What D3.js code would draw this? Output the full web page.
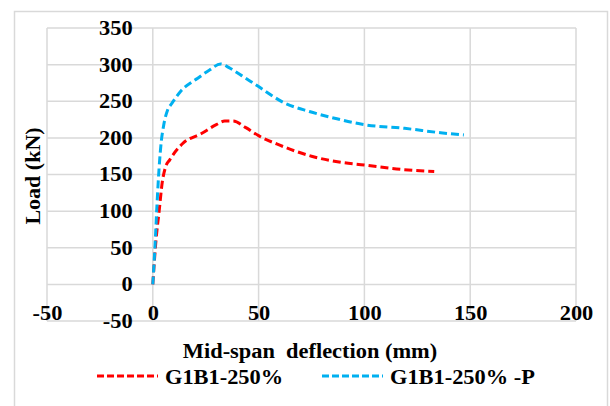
<!DOCTYPE html>
<html lang="en">
<head>
<meta charset="utf-8" />
<title>Load - deflection</title>
<script src="https://d3js.org/d3.v7.min.js"></script>
<style>
  body { margin: 0; background: #fff; }
  .grid line { stroke: #d9d9d9; stroke-width: 1.5px; }
  .series { fill: none; stroke-width: 3px; stroke-dasharray: 8,4; }
</style>
</head>
<body>
<svg id="chart" width="610" height="406"></svg>
<script>
// tick values
var xTicks = [-50, 0, 50, 100, 150, 200];
var yTicks = [-50, 0, 50, 100, 150, 200, 250, 300, 350];

// G1B1-250%
var deflA = [0, 1.5, 3, 4.5, 6, 8, 14, 23, 30, 34, 38, 44, 50, 60, 75, 88, 100, 117, 133];
var loadA = [0, 60, 100, 140, 160, 170, 192, 206, 218, 223, 223, 214, 203, 190, 175, 167, 163, 157, 154];

// G1B1-250% -P
var deflB = [0, 1, 2, 3, 4, 5, 7, 9, 13, 21, 27, 32, 36, 42, 50, 62, 74, 87, 100, 119, 136, 147];
var loadB = [0, 50, 110, 160, 195, 215, 238, 247, 263, 281, 293, 301, 296, 285, 270, 248, 236, 226, 218, 213, 207, 204];

var seriesNames = ["G1B1-250%", "G1B1-250% -P"];

var FONT = "'Liberation Serif'";
var sx = 1.12; // text in the original is a little wide
var svg = d3.select("#chart");

function styleText(sel, size) {
	sel.style("font-family", FONT)
		.style("font-weight", "bold")
		.style("font-size", size + "px")
		.attr("fill", "#000");
}

svg.append("rect")
	.attr("x", 14.5).attr("y", 11.5)
	.attr("width", 593).attr("height", 430)
	.attr("fill", "none")
	.attr("stroke", "#d9d9d9")
	.attr("stroke-width", 1.5);

var x = d3.scaleLinear().domain([-50, 200]).range([47, 576]);
var y = d3.scaleLinear().domain([-50, 350]).range([321, 28]);

// grid
var grid = svg.append("g").attr("class", "grid");
grid.selectAll("line.v").data(xTicks).enter().append("line")
	.attr("class", "v")
	.attr("x1", function(d) { return x(d); }).attr("x2", function(d) { return x(d); })
	.attr("y1", y(-50)).attr("y2", y(350));
grid.selectAll("line.h").data(yTicks).enter().append("line")
	.attr("class", "h")
	.attr("y1", function(d) { return y(d); }).attr("y2", function(d) { return y(d); })
	.attr("x1", x(-50)).attr("x2", x(200));

// axes (cross at 0, labels only)
var fmt = function(d) { return String(d); }; // plain hyphen, like the original
var xAxis = svg.append("g")
	.attr("transform", "translate(0," + y(0) + ")")
	.call(d3.axisBottom(x).tickValues(xTicks).tickFormat(fmt).tickSize(0).tickPadding(21));
var yAxis = svg.append("g")
	.attr("transform", "translate(" + x(0) + ",0)")
	.call(d3.axisLeft(y).tickValues(yTicks).tickFormat(fmt).tickSize(0).tickPadding(18));

[xAxis, yAxis].forEach(function(a) {
	a.select(".domain").remove();
	a.selectAll("text")
		.call(styleText, 20)
		.attr("transform", "scale(" + sx + ",1)");
});

// curves
var line = d3.line()
	.x(function(d) { return x(d[0]); })
	.y(function(d) { return y(d[1]); })
	.curve(d3.curveMonotoneX);

var dataA = d3.zip(deflA, loadA);
var dataB = d3.zip(deflB, loadB);

svg.append("path").attr("class", "series")
	.attr("stroke", "#ff0000")
	.attr("d", line(dataA));
svg.append("path").attr("class", "series")
	.attr("stroke", "#00b0f0")
	.attr("d", line(dataB));

// axis titles
svg.append("text")
	.attr("transform", "translate(310,358) scale(" + sx + ",1)")
	.attr("text-anchor", "middle")
	.style("white-space", "pre")
	.call(styleText, 20)
	.text("Mid-span  deflection (mm)");

svg.append("text")
	.attr("transform", "translate(40,176) rotate(-90)")
	.attr("text-anchor", "middle")
	.call(styleText, 22)
	.text("Load (kN)");

// legend
var legend = [
	{ name: seriesNames[0], color: "#ff0000", x: 97 },
	{ name: seriesNames[1], color: "#00b0f0", x: 322 }
];
var lg = svg.selectAll("g.legend").data(legend).enter().append("g")
	.attr("class", "legend")
	.attr("transform", function(d) { return "translate(" + d.x + ",376)"; });
lg.append("line")
	.attr("x1", 0).attr("x2", 61)
	.attr("y1", 0).attr("y2", 0)
	.attr("stroke", function(d) { return d.color; })
	.attr("stroke-width", 3)
	.attr("stroke-dasharray", "7,3");
lg.append("text")
	.attr("transform", "translate(68,8) scale(" + sx + ",1)")
	.call(styleText, 20)
	.text(function(d) { return d.name; });
</script>
</body>
</html>
